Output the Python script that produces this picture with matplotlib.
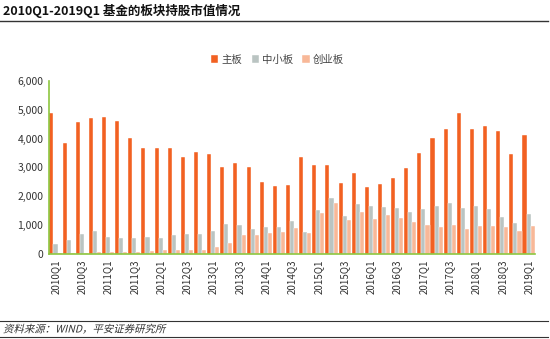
import matplotlib.pyplot as plt
import numpy as np
from matplotlib.textpath import TextPath
from matplotlib.patches import PathPatch
from matplotlib.font_manager import FontProperties
from matplotlib.transforms import Affine2D

plt.rcParams['font.family'] = ['Noto Sans CJK SC', 'DejaVu Sans']

quarters = [f'{y}Q{q}' for y in range(2010, 2019) for q in range(1, 5)] + ['2019Q1']

main_board = [4900, 3850, 4580, 4720, 4750, 4620, 4020, 3680,
              3680, 3670, 3350, 3550, 3480, 3030, 3150, 3030,
              2480, 2350, 2400, 3350, 3100, 3070, 2450, 2800,
              2320, 2440, 2650, 2970, 3500, 4030, 4350, 4880,
              4330, 4450, 4280, 3480, 4130]
sme_board = [350, 480, 700, 800, 590, 560, 560, 590,
             560, 650, 680, 680, 800, 1050, 1000, 860,
             930, 950, 1150, 770, 1530, 1950, 1330, 1720,
             1650, 1640, 1600, 1470, 1550, 1680, 1770, 1610,
             1660, 1550, 1270, 1060, 1390]
gem_board = [20, 30, 40, 60, 80, 60, 80, 110,
             130, 130, 120, 150, 250, 370, 640, 660,
             740, 750, 900, 720, 1430, 1760, 1180, 1450,
             1200, 1350, 1250, 1100, 1000, 950, 1000, 870,
             970, 970, 950, 810, 960]

series = ['主板', '中小板', '创业板']
colors = ['#F26122', '#BAC4C2', '#F8B898']

fig = plt.figure(figsize=(5.5, 3.39), dpi=100)
ax = fig.add_axes([0.089, 0.251, 0.884, 0.51])

x = np.arange(len(quarters))
w = 0.31
for i, (vals, name, c) in enumerate(zip([main_board, sme_board, gem_board], series, colors)):
    ax.bar(x + (i - 1) * w, vals, width=w, color=c, label=name,
           edgecolor='white', linewidth=0.3)

ax.set_xlim(-0.5, len(quarters) - 0.5)
ax.set_ylim(0, 6000)
ax.set_yticks(range(0, 6001, 1000))
ax.set_yticklabels([f'{v:,}' for v in range(0, 6001, 1000)], fontsize=7.5, color='#333333')
ax.set_xticks(x[::2])
ax.set_xticklabels(quarters[::2], rotation=90, fontsize=7, color='#333333')
ax.tick_params(length=0, pad=4)

for s in ['top', 'right']:
    ax.spines[s].set_visible(False)
for s in ['left', 'bottom']:
    ax.spines[s].set_color('#8DC63F')
    ax.spines[s].set_linewidth(1.2)

ax.legend(loc='lower center', bbox_to_anchor=(0.47, 1.04), ncol=3, frameon=False,
          fontsize=7.5, handlelength=0.7, handleheight=0.7, handletextpad=0.3,
          columnspacing=0.9, labelcolor='#444444')

# title and source lines
fig.text(0.006, 0.967, '2010Q1-2019Q1 基金的板块持股市值情况', fontsize=9,
         fontweight='bold', va='center', ha='left', color='#111111')
fig.add_artist(plt.Line2D([0.0, 0.996], [0.938, 0.938], color='#333333', linewidth=1))
fig.add_artist(plt.Line2D([0.0, 0.996], [0.053, 0.053], color='#333333', linewidth=0.8))
fig.add_artist(plt.Line2D([0.0, 0.996], [0.006, 0.006], color='#333333', linewidth=0.8))

# slanted source note (the CJK font has no italic face)
src = TextPath((0, 0), '资料来源：WIND，平安证券研究所', size=7.5,
               prop=FontProperties(family='Noto Sans CJK SC'))
tr = Affine2D().skew_deg(14, 0).scale(1 / 72).translate(0.03, 0.065) + fig.dpi_scale_trans
fig.add_artist(PathPatch(src, transform=tr, color='#333333', lw=0))

fig.savefig('out.png', dpi=100)
